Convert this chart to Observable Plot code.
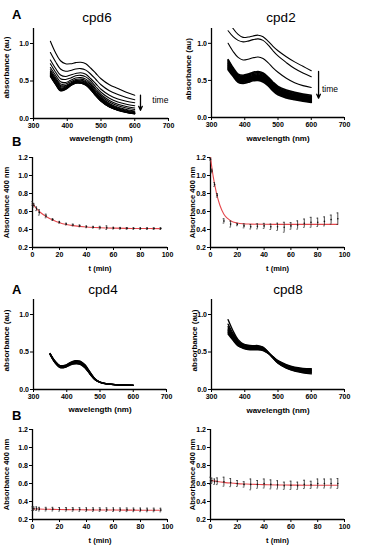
<!DOCTYPE html>
<html><head><meta charset="utf-8">
<script src="https://cdn.jsdelivr.net/npm/d3@7"></script>
<script src="https://cdn.jsdelivr.net/npm/@observablehq/plot@0.6"></script>
<style>
body{margin:0;background:#fff;}
#fig{position:relative;width:365px;height:550px;overflow:hidden;background:#fff;font-family:"Liberation Sans",Arial,sans-serif;}
</style></head><body><div id="fig"></div><script>
// ---------- DATA ----------
const wavelengths = [350,365,380,395,410,425,440,455,470,485,500,525,550,575,600];

const cpd6Spectra = [
 [1.03,0.88,0.77,0.73,0.73,0.745,0.75,0.73,0.67,0.60,0.53,0.45,0.40,0.35,0.31],
 [0.88,0.76,0.66,0.63,0.64,0.66,0.665,0.645,0.59,0.52,0.45,0.37,0.32,0.28,0.25],
 [0.78,0.67,0.58,0.56,0.58,0.60,0.61,0.59,0.53,0.46,0.39,0.31,0.26,0.23,0.21],
 [0.73,0.62,0.53,0.52,0.54,0.57,0.575,0.555,0.50,0.42,0.35,0.27,0.22,0.19,0.17],
 [0.68,0.58,0.49,0.48,0.51,0.54,0.545,0.525,0.47,0.39,0.32,0.24,0.19,0.16,0.14],
 [0.65,0.55,0.46,0.46,0.49,0.52,0.525,0.505,0.45,0.37,0.30,0.22,0.17,0.14,0.12],
 [0.63,0.53,0.44,0.44,0.475,0.505,0.51,0.49,0.43,0.35,0.28,0.20,0.15,0.12,0.10],
 [0.615,0.515,0.425,0.43,0.465,0.495,0.50,0.48,0.42,0.34,0.27,0.19,0.14,0.11,0.09],
 [0.605,0.50,0.41,0.42,0.46,0.49,0.49,0.47,0.41,0.33,0.26,0.18,0.13,0.10,0.082],
 [0.595,0.49,0.40,0.41,0.455,0.485,0.485,0.465,0.40,0.32,0.25,0.17,0.125,0.095,0.076],
 [0.585,0.48,0.39,0.405,0.45,0.48,0.48,0.46,0.395,0.315,0.245,0.165,0.12,0.09,0.072],
 [0.578,0.472,0.383,0.40,0.447,0.477,0.477,0.455,0.39,0.31,0.24,0.16,0.115,0.087,0.068],
 [0.57,0.465,0.377,0.395,0.443,0.474,0.474,0.45,0.385,0.305,0.235,0.157,0.112,0.084,0.065],
 [0.565,0.46,0.372,0.39,0.44,0.472,0.471,0.447,0.382,0.302,0.232,0.154,0.11,0.082,0.063],
 [0.56,0.455,0.368,0.386,0.437,0.47,0.469,0.444,0.379,0.30,0.23,0.152,0.108,0.08,0.061]
];

const cpd2SpectraEarly = [
 [1.32,1.20,1.12,1.08,1.085,1.10,1.11,1.09,1.03,0.96,0.90,0.82,0.75,0.69,0.63],
 [1.17,1.09,1.04,1.02,1.03,1.05,1.06,1.04,0.98,0.90,0.83,0.74,0.66,0.60,0.55],
 [1.00,0.89,0.81,0.775,0.785,0.805,0.815,0.795,0.74,0.67,0.61,0.53,0.47,0.43,0.405]
];
const cpd2SpectraLate = [
 [0.78,0.67,0.585,0.57,0.585,0.61,0.62,0.60,0.545,0.475,0.42,0.37,0.34,0.315,0.30],
 [0.765,0.655,0.57,0.555,0.57,0.595,0.605,0.585,0.53,0.46,0.405,0.355,0.325,0.30,0.285],
 [0.75,0.64,0.555,0.54,0.555,0.58,0.59,0.57,0.515,0.445,0.39,0.34,0.31,0.29,0.275],
 [0.735,0.625,0.54,0.525,0.54,0.565,0.575,0.555,0.50,0.43,0.375,0.33,0.30,0.28,0.265],
 [0.72,0.61,0.53,0.515,0.53,0.55,0.56,0.54,0.49,0.42,0.365,0.32,0.29,0.27,0.255],
 [0.705,0.60,0.52,0.505,0.52,0.54,0.55,0.53,0.48,0.41,0.355,0.31,0.28,0.26,0.245],
 [0.69,0.59,0.51,0.495,0.51,0.53,0.54,0.52,0.47,0.40,0.345,0.30,0.27,0.25,0.235],
 [0.675,0.58,0.50,0.485,0.50,0.52,0.53,0.51,0.46,0.39,0.335,0.29,0.26,0.24,0.225],
 [0.66,0.57,0.49,0.475,0.49,0.51,0.515,0.495,0.445,0.375,0.32,0.275,0.25,0.23,0.215],
 [0.645,0.555,0.475,0.46,0.475,0.495,0.50,0.48,0.43,0.36,0.305,0.265,0.24,0.22,0.205]
];

const cpd4Spectra = [
 [0.48,0.38,0.32,0.325,0.36,0.385,0.38,0.33,0.235,0.145,0.10,0.075,0.065,0.06,0.056],
 [0.48,0.375,0.315,0.32,0.355,0.38,0.375,0.325,0.23,0.142,0.099,0.074,0.064,0.06,0.056],
 [0.475,0.37,0.31,0.315,0.35,0.372,0.368,0.318,0.225,0.14,0.098,0.073,0.064,0.059,0.055],
 [0.475,0.365,0.305,0.31,0.345,0.365,0.36,0.31,0.22,0.137,0.097,0.072,0.063,0.059,0.055],
 [0.47,0.362,0.30,0.305,0.34,0.358,0.352,0.303,0.215,0.135,0.096,0.072,0.063,0.058,0.055],
 [0.47,0.36,0.297,0.30,0.335,0.352,0.345,0.297,0.21,0.132,0.095,0.071,0.062,0.058,0.054],
 [0.468,0.357,0.294,0.297,0.33,0.346,0.34,0.291,0.206,0.13,0.094,0.071,0.062,0.058,0.054],
 [0.465,0.355,0.29,0.293,0.325,0.34,0.335,0.286,0.202,0.128,0.093,0.07,0.062,0.057,0.054]
];

const cpd8Spectra = [
 [0.93,0.78,0.665,0.61,0.59,0.585,0.585,0.565,0.50,0.42,0.35,0.285,0.245,0.222,0.208],
 [0.87,0.745,0.648,0.60,0.583,0.578,0.578,0.56,0.498,0.422,0.355,0.29,0.252,0.23,0.218],
 [0.84,0.725,0.635,0.592,0.576,0.571,0.571,0.554,0.496,0.424,0.36,0.296,0.259,0.238,0.228],
 [0.82,0.71,0.624,0.585,0.569,0.564,0.564,0.548,0.494,0.426,0.364,0.302,0.266,0.246,0.237],
 [0.80,0.697,0.614,0.578,0.562,0.557,0.557,0.542,0.492,0.428,0.368,0.308,0.272,0.253,0.246],
 [0.785,0.686,0.605,0.571,0.555,0.55,0.55,0.536,0.49,0.43,0.372,0.314,0.278,0.26,0.254],
 [0.77,0.675,0.596,0.564,0.548,0.543,0.543,0.53,0.488,0.432,0.376,0.32,0.284,0.267,0.262],
 [0.755,0.665,0.588,0.557,0.541,0.536,0.536,0.524,0.486,0.434,0.38,0.326,0.29,0.274,0.27],
 [0.74,0.655,0.58,0.55,0.534,0.529,0.529,0.518,0.484,0.436,0.384,0.332,0.296,0.281,0.278]
];

// time arrows (data units)
const cpd6Arrow = [{x: 617, y1: 0.31, y2: 0.11, lx: 652, ly: 0.24, label: "time"}];
const cpd2Arrow = [{x: 622, y1: 0.62, y2: 0.26, lx: 632, ly: 0.38, label: "time"}];

// kinetics at 400 nm
const kinTimes = [0,1,3,5,10,15,20,25,30,35,40,45,50,55,60,65,70,75,80,85,90,95];
const cpd6Abs = [0.69,0.67,0.63,0.59,0.55,0.51,0.48,0.46,0.45,0.44,0.43,0.425,0.42,0.42,0.415,0.413,0.412,0.411,0.41,0.41,0.41,0.41];
const cpd6Err = [0.02,0.02,0.02,0.03,0.02,0.01,0.01,0.01,0.01,0.01,0.01,0.01,0.015,0.02,0.01,0.01,0.01,0.01,0.01,0.01,0.01,0.01];
const cpd2Abs = [1.18,1.05,0.90,0.78,0.495,0.46,0.455,0.44,0.43,0.435,0.44,0.43,0.43,0.425,0.44,0.45,0.47,0.48,0.48,0.49,0.51,0.52];
const cpd2Err = [0.01,0.02,0.02,0.02,0.024,0.033,0.013,0.022,0.024,0.028,0.028,0.03,0.04,0.055,0.037,0.046,0.046,0.055,0.046,0.05,0.05,0.064];
const cpd4Abs = [0.32,0.32,0.32,0.315,0.315,0.315,0.313,0.313,0.312,0.311,0.31,0.31,0.31,0.309,0.309,0.308,0.308,0.307,0.307,0.306,0.306,0.305];
const cpd4Err = [0.02,0.02,0.02,0.02,0.02,0.02,0.02,0.02,0.02,0.02,0.02,0.02,0.02,0.02,0.02,0.02,0.02,0.02,0.02,0.02,0.02,0.02];
const cpd8Abs = [0.63,0.63,0.62,0.625,0.62,0.61,0.60,0.59,0.59,0.59,0.60,0.59,0.585,0.575,0.58,0.575,0.59,0.585,0.60,0.60,0.60,0.60];
const cpd8Err = [0.04,0.03,0.03,0.037,0.05,0.045,0.033,0.03,0.06,0.043,0.05,0.05,0.046,0.04,0.046,0.04,0.046,0.04,0.05,0.05,0.05,0.055];

// fitted curves
const fitTimes = [0,2,5,10,15,20,25,30,40,50,60,70,80,95];
const cpd6Fit = [0.69,0.65,0.60,0.545,0.505,0.475,0.455,0.443,0.428,0.42,0.415,0.412,0.411,0.41];
const cpd4Fit = [0.318,0.317,0.316,0.314,0.312,0.311,0.31,0.309,0.307,0.306,0.305,0.304,0.303,0.302];
const cpd8Fit = [0.635,0.63,0.623,0.613,0.605,0.599,0.595,0.592,0.587,0.584,0.582,0.581,0.58,0.58];
const cpd2FitTimes = [0,1,2,3,5,7,10,13,16,20,25,30,40,60,80,95];
const cpd2Fit = [1.2,1.09,0.99,0.91,0.77,0.67,0.57,0.52,0.49,0.472,0.463,0.46,0.458,0.457,0.457,0.457];

// tick labels
const specXTicks = [300,400,500,600,700];
const specYTicks = [0,0.5,1.0];
const kinXTicks = [0,20,40,60,80,100];
const kinYTicks = [0.2,0.4,0.6,0.8,1.0,1.2];

// ---------- DRAWING ----------
const FONT = '"Liberation Sans", Arial, Helvetica, sans-serif';
const fig = document.getElementById("fig");

function curveRows(curves){
  const rows = [];
  curves.forEach((c,k) => c.forEach((a,i) => rows.push({w: wavelengths[i], a, k})));
  return rows;
}
function kinRows(abs, err){ return kinTimes.map((t,i) => ({t, v: abs[i], e: err[i]})); }
function fitRows(ts, vs){ return ts.map((t,i) => ({t, v: vs[i]})); }

function layout(box, frame){
  const [left, top, width, height] = box;
  const [fx0, fx1, fy0, fy1] = frame;
  return {width, height, marginLeft: fx0-left, marginRight: left+width-fx1, marginTop: fy0-top, marginBottom: top+height-fy1};
}

function axisMarks(o){
  return [
    Plot.axisX({ticks: o.xTicks, tickFormat: o.xFmt, tickSize: 3, tickPadding: 1.5, label: null, fontSize: 7, fontWeight: "bold", strokeWidth: 1}),
    Plot.axisY({ticks: o.yTicks, tickFormat: o.yFmt, tickSize: 3, tickPadding: 1.5, label: null, fontSize: 7, fontWeight: "bold", strokeWidth: 1}),
    Plot.ruleX([o.xDomain[0]], {stroke: "#000", strokeWidth: 1.3}),
    Plot.ruleY([o.yDomain[0]], {stroke: "#000", strokeWidth: 1.3}),
    Plot.text([o.xLabel], {text: d => d, frameAnchor: "bottom", lineAnchor: "bottom", textAnchor: "middle", dy: o.xDy, fontSize: o.size, fontWeight: "bold"}),
    Plot.text([o.yLabel], {text: d => d, frameAnchor: "left", lineAnchor: "top", textAnchor: "middle", rotate: -90, dx: o.yDx, dy: o.yDy || 0, fontSize: o.size, fontWeight: "bold"})
  ];
}

function place(svg, box){
  svg.style.position = "absolute";
  svg.style.left = box[0] + "px";
  svg.style.top = box[1] + "px";
  svg.style.overflow = "visible";
  fig.appendChild(svg);
}

function spectraPanel(box, frame, groups, arrow, yDx, xDy, yDy){
  const marks = axisMarks({xTicks: specXTicks, yTicks: specYTicks, xFmt: d3.format("d"), yFmt: d3.format(".1f"),
    xDomain: [300,700], yDomain: [0,1.2], xLabel: "wavelength (nm)", yLabel: "absorbance (au)", xDy, yDx, yDy, size: 8});
  groups.forEach(g => marks.push(Plot.line(curveRows(g.curves), {x: "w", y: "a", z: "k", stroke: "#000", strokeWidth: g.sw, curve: "catmull-rom", clip: true})));
  if (arrow) {
    marks.push(Plot.arrow(arrow, {x: "x", y1: "y1", y2: "y2", stroke: "#000", strokeWidth: 1.3, headLength: 5, headAngle: 50}));
    marks.push(Plot.text(arrow, {x: "lx", y: "ly", text: "label", textAnchor: "start", fontSize: 8.5, fill: "#000"}));
  }
  const svg = Plot.plot({...layout(box, frame), x: {domain: [300,700]}, y: {domain: [0,1.2]},
    style: {fontFamily: FONT, background: "transparent", color: "#000", overflow: "visible"}, marks});
  place(svg, box);
}

function kineticPanel(box, frame, rows, fit, curve, yDx, xDy){
  const marks = axisMarks({xTicks: kinXTicks, yTicks: kinYTicks, xFmt: d3.format("d"), yFmt: d3.format(".1f"),
    xDomain: [0,100], yDomain: [0.2,1.2], xLabel: "t (min)", yLabel: "Absorbance 400 nm", xDy, yDx, size: 7.5});
  marks.push(Plot.line(fit, {x: "t", y: "v", stroke: "#e5484d", strokeWidth: 1.1, curve}));
  marks.push(Plot.ruleX(rows, {x: "t", y1: d => d.v - d.e, y2: d => d.v + d.e, stroke: "#222", strokeWidth: 0.8}));
  marks.push(Plot.ruleY(rows, {y: d => d.v + d.e, x1: d => d.t - 0.6, x2: d => d.t + 0.6, stroke: "#222", strokeWidth: 0.7}));
  marks.push(Plot.ruleY(rows, {y: d => d.v - d.e, x1: d => d.t - 0.6, x2: d => d.t + 0.6, stroke: "#222", strokeWidth: 0.7}));
  marks.push(Plot.dot(rows, {x: "t", y: "v", r: 0.8, fill: "#111", stroke: null}));
  const svg = Plot.plot({...layout(box, frame), x: {domain: [0,100]}, y: {domain: [0.2,1.2]},
    style: {fontFamily: FONT, background: "transparent", color: "#000", overflow: "visible"}, marks});
  place(svg, box);
}

// Row 1: spectra cpd6, cpd2
spectraPanel([0,20,182,130], [33,168,28,118], [{curves: cpd6Spectra, sw: 1.1}], cpd6Arrow, -30, 22, -6);
spectraPanel([182,20,183,130], [211,344,28,117], [{curves: cpd2SpectraEarly, sw: 1.1}, {curves: cpd2SpectraLate, sw: 1.7}], cpd2Arrow, -26, 23, -4);
// Row 2: kinetics cpd6, cpd2
kineticPanel([0,150,182,125], [32,167,157,247], kinRows(cpd6Abs, cpd6Err), fitRows(fitTimes, cpd6Fit), "catmull-rom", -29, 23);
kineticPanel([182,150,183,125], [210,344,157,247], kinRows(cpd2Abs, cpd2Err), fitRows(cpd2FitTimes, cpd2Fit), "monotone-x", -21, 23);
// Row 3: spectra cpd4, cpd8
spectraPanel([0,290,182,125], [33,166,299,389], [{curves: cpd4Spectra, sw: 1.2}], null, -30, 22, -4);
spectraPanel([182,290,183,125], [211,344,299,389], [{curves: cpd8Spectra, sw: 1.4}], null, -20, 23, -4);
// Row 4: kinetics cpd4, cpd8
kineticPanel([0,422,182,128], [32,167,429,519], kinRows(cpd4Abs, cpd4Err), fitRows(fitTimes, cpd4Fit), "catmull-rom", -29, 23);
kineticPanel([182,422,183,128], [210,344,429,519], kinRows(cpd8Abs, cpd8Err), fitRows(fitTimes, cpd8Fit), "catmull-rom", -21, 23);

// Panel letters and compound titles
const overlay = d3.select(fig).append("svg")
  .attr("width", 365).attr("height", 550)
  .style("position", "absolute").style("left", "0px").style("top", "0px")
  .style("pointer-events", "none").style("font-family", FONT);
const letters = [["A",12,19],["B",12,146],["A",12,294],["B",12,420]];
const titles = [["cpd6",97,22],["cpd2",281,22],["cpd4",103,294],["cpd8",288,294]];
overlay.selectAll("text.l").data(letters).join("text").attr("class","l")
  .attr("x", d => d[1]).attr("y", d => d[2]).attr("font-size", 13).attr("font-weight", "bold").text(d => d[0]);
overlay.selectAll("text.t").data(titles).join("text").attr("class","t")
  .attr("x", d => d[1]).attr("y", d => d[2]).attr("text-anchor", "middle").attr("font-size", 13.5).text(d => d[0]);
</script></body></html>
